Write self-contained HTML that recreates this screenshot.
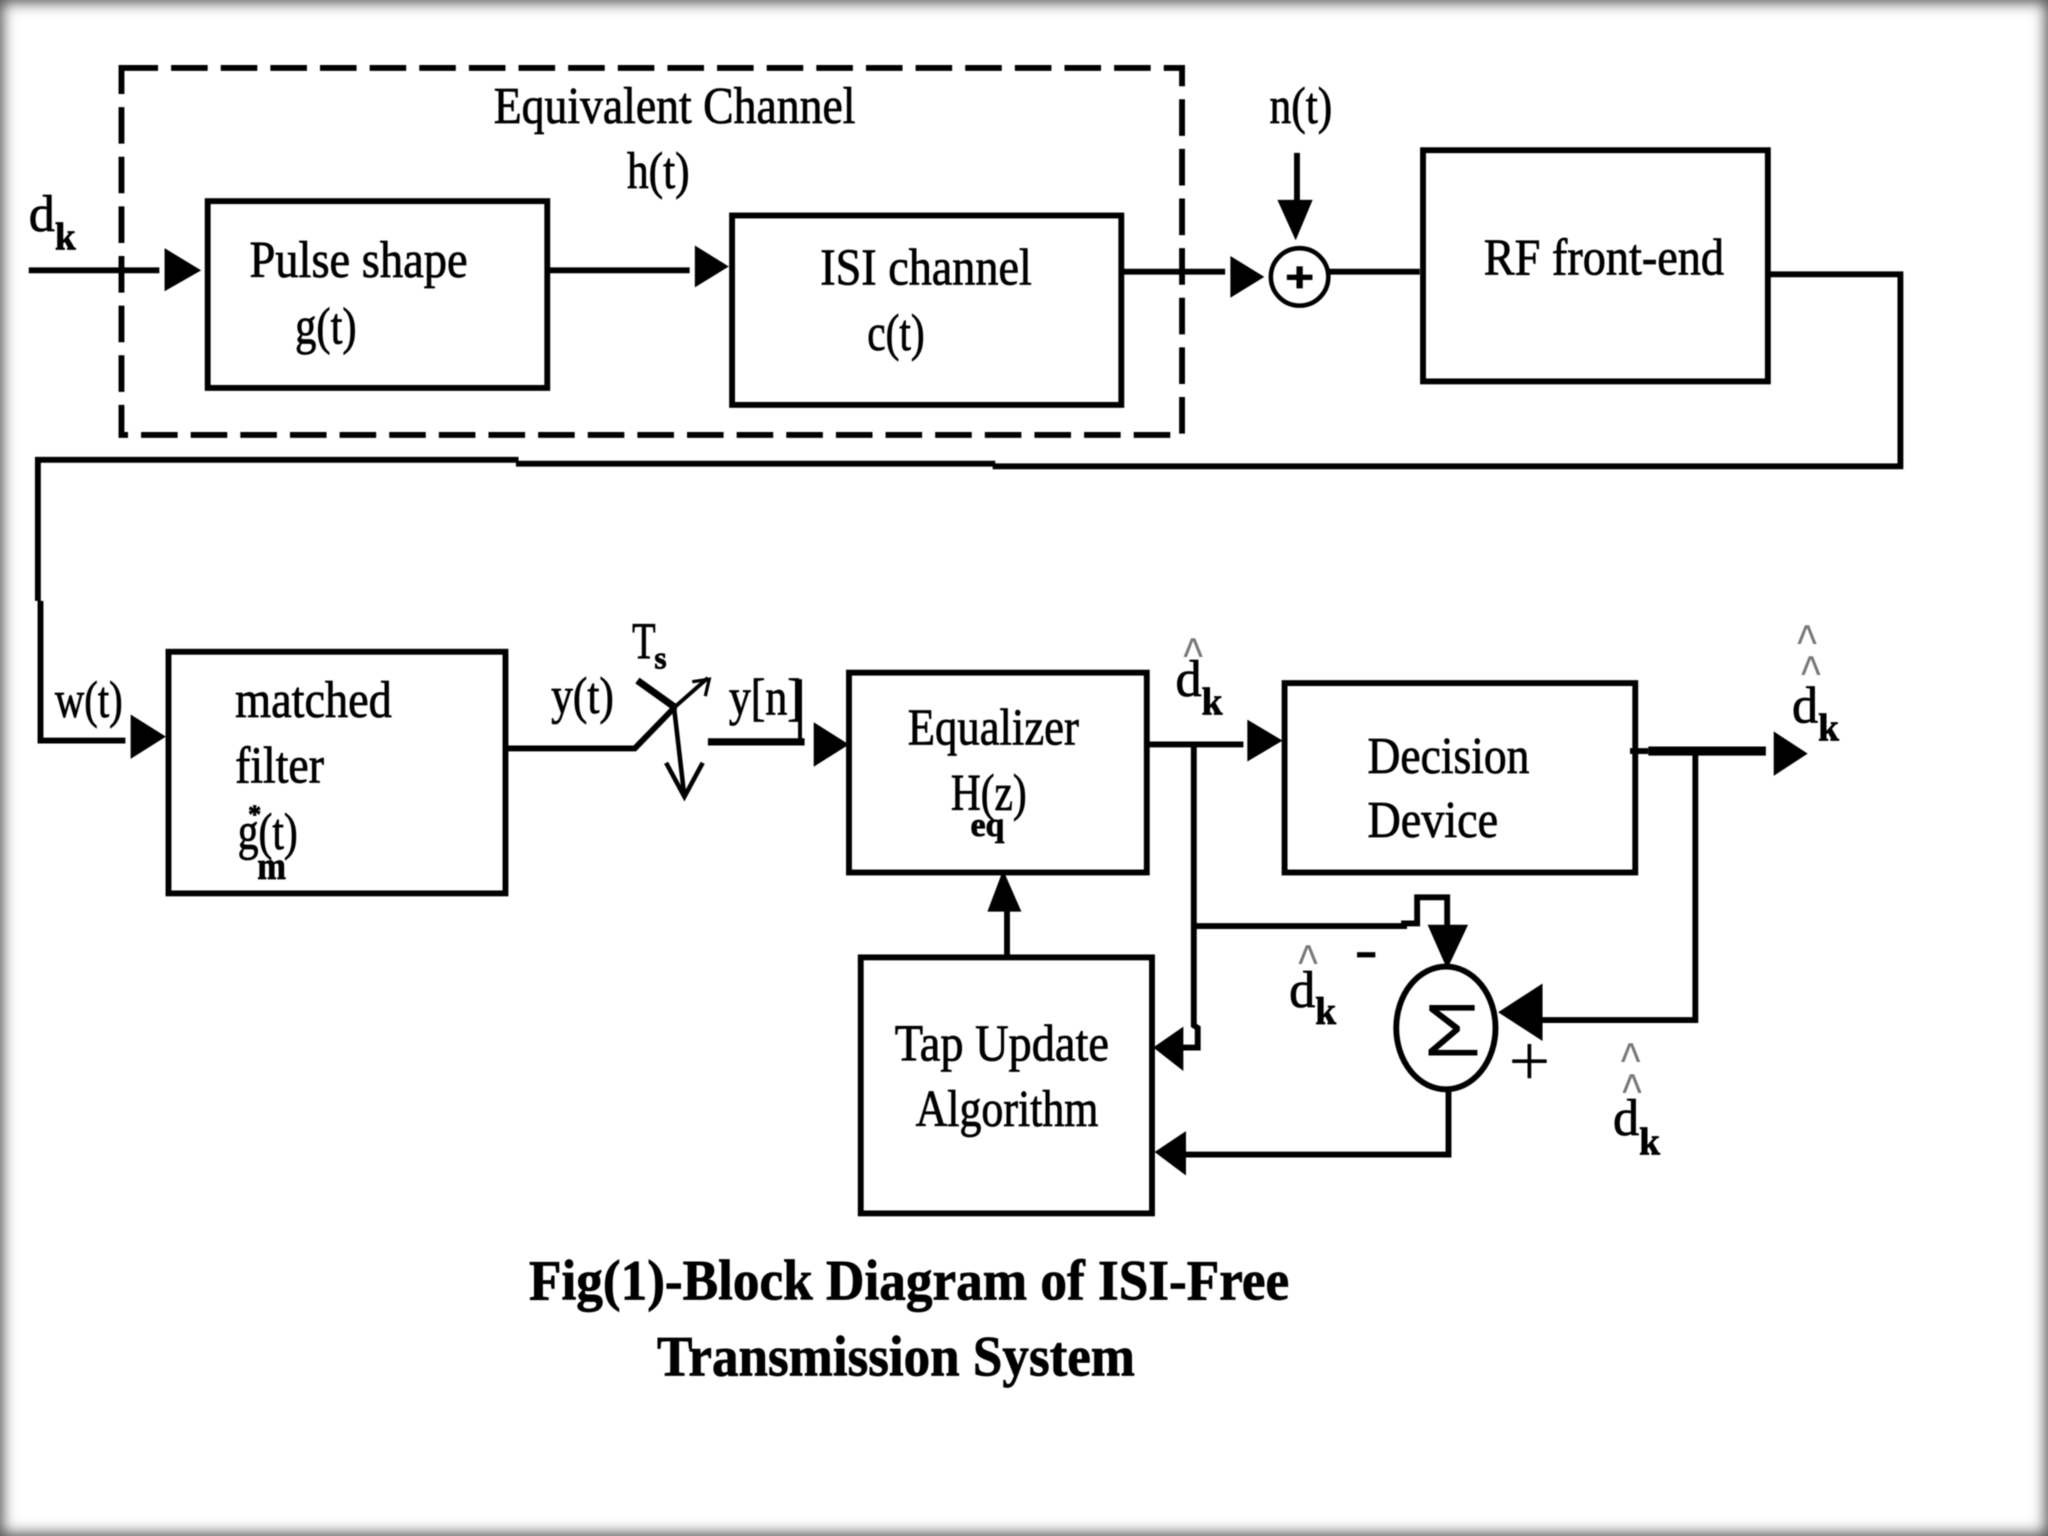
<!DOCTYPE html>
<html><head><meta charset="utf-8"><style>
html,body{margin:0;padding:0;background:#fff}
#w{position:relative;width:2048px;height:1536px;overflow:hidden;background:#fff}
svg{position:absolute;left:0;top:0;filter:blur(.5px)}
#e{position:absolute;inset:0;box-shadow:inset 0 0 14px 3px #555}
text{font-family:"Liberation Serif",serif;font-size:40px;fill:#000;stroke:#000;stroke-width:.6px}
.b{font-weight:bold;font-size:30px}
.h{font-family:"Liberation Sans",sans-serif;font-size:40px;fill:#777;stroke:none}
.t{font-weight:bold;font-size:44px}
path,line,rect,ellipse,circle{stroke:#000;fill:none;stroke-width:4.5}
polygon{fill:#000;stroke:none}
</style></head><body><div id="w">
<svg width="2048" height="1536" viewBox="0 0 1568 1176" xmlns="http://www.w3.org/2000/svg">
<rect x="93" y="52" width="812" height="281" stroke-dasharray="28 10"/>
<rect x="159" y="154" width="260" height="143"/>
<rect x="560.5" y="165" width="298" height="145"/>
<rect x="1089.5" y="115" width="264" height="177"/>
<rect x="129" y="499" width="258" height="185"/>
<rect x="650" y="515" width="228" height="153"/>
<rect x="983.5" y="523" width="268.5" height="145"/>
<rect x="659" y="733" width="223" height="196"/>

<path d="M22 207H122M421 207H528M860 208H938M1017 208H1087"/>
<path d="M993 117V155"/>
<path d="M1355 210H1455V357H760M762 355H395M397 352H29V460M31 460V567H96"/>
<path d="M385 573H486L517 541"/>
<path d="M517 541L542 519" style="stroke-width:3"/>
<path d="M530 522L543 520L540 533" style="stroke-width:2.5"/>
<path d="M488 521L516 541" style="stroke-width:5.5"/>
<path d="M516 541L524 610" style="stroke-width:3.5"/>
<path d="M510 584L524 610L538 584" style="stroke-width:3.5"/>
<path d="M542 568H616" style="stroke-width:5.5"/>
<path d="M879 570H952M914 570V785L917 787V802H904"/>
<path d="M914 709H1075V707H1085V687H1108V710"/>
<path d="M1109 835V884H906"/>
<path d="M1248 575H1262M1298 575V781H1180M771 733V695"/>
<path d="M1262 575H1352" style="stroke-width:7"/>
<circle cx="995" cy="212" r="22" style="stroke-width:3.5"/>
<ellipse cx="1107" cy="787" rx="38" ry="47"/>

<polygon points="126,190 154,207 126,223"/>
<polygon points="532,188 558,204 532,220"/>
<polygon points="942,196 968,212 942,228"/>
<polygon points="978,153 1005,153 992,184"/>
<polygon points="100,547 127,564 100,581"/>
<polygon points="623,553 650,570 623,587"/>
<polygon points="955,551 982,567 955,583"/>
<polygon points="883,802 906,786 906,820"/>
<polygon points="1093,708 1124,708 1108,742"/>
<polygon points="884,882 908,866 908,900"/>
<polygon points="1147,775 1181,753 1181,797"/>
<polygon points="1358,560 1384,577 1358,594"/>
<polygon points="756,698 782,698 768,666"/>
<rect x="1039" y="729" width="14" height="4" style="fill:#000;stroke:none"/>
<rect x="611" y="520" width="3" height="50" style="fill:#000;stroke:none"/>

<text x="378" y="94" textLength="277" lengthAdjust="spacingAndGlyphs">Equivalent Channel</text>
<text x="480" y="144" textLength="48" lengthAdjust="spacingAndGlyphs">h(t)</text>
<text x="22" y="177" textLength="20" lengthAdjust="spacingAndGlyphs">d</text>
<text class="b" x="42" y="191" textLength="16" lengthAdjust="spacingAndGlyphs">k</text>
<text x="191" y="212" textLength="167" lengthAdjust="spacingAndGlyphs">Pulse shape</text>
<text x="226" y="263" textLength="47" lengthAdjust="spacingAndGlyphs">g(t)</text>
<text x="628" y="218" textLength="162" lengthAdjust="spacingAndGlyphs">ISI channel</text>
<text x="664" y="268" textLength="44" lengthAdjust="spacingAndGlyphs">c(t)</text>
<text x="972" y="94" textLength="48" lengthAdjust="spacingAndGlyphs">n(t)</text>
<text x="1136" y="210" textLength="184" lengthAdjust="spacingAndGlyphs">RF front-end</text>
<text x="42" y="549" textLength="52" lengthAdjust="spacingAndGlyphs">w(t)</text>
<text x="180" y="549" textLength="120" lengthAdjust="spacingAndGlyphs">matched</text>
<text x="180" y="599" textLength="68" lengthAdjust="spacingAndGlyphs">filter</text>
<text x="182" y="650" textLength="46" lengthAdjust="spacingAndGlyphs">g(t)</text>
<text class="b" x="190" y="630" style="font-size:20px">*</text>
<text class="b" x="197" y="673" textLength="22" lengthAdjust="spacingAndGlyphs">m</text>
<text x="422" y="546" textLength="48" lengthAdjust="spacingAndGlyphs">y(t)</text>
<text x="484" y="504" textLength="18" lengthAdjust="spacingAndGlyphs">T</text>
<text class="b" x="501" y="512" style="font-size:24px">s</text>
<text x="558" y="547" textLength="56" lengthAdjust="spacingAndGlyphs">y[n]</text>
<text x="695" y="570" textLength="131" lengthAdjust="spacingAndGlyphs">Equalizer</text>
<text x="728" y="620" textLength="58" lengthAdjust="spacingAndGlyphs">H(z)</text>
<text class="b" x="743" y="640" textLength="26" lengthAdjust="spacingAndGlyphs" style="font-size:26px">eq</text>
<text class="h" x="906" y="516" textLength="15" lengthAdjust="spacingAndGlyphs">^</text>
<text x="900" y="533" textLength="20" lengthAdjust="spacingAndGlyphs">d</text>
<text class="b" x="920" y="547" textLength="16" lengthAdjust="spacingAndGlyphs">k</text>
<text x="1047" y="592" textLength="124" lengthAdjust="spacingAndGlyphs">Decision</text>
<text x="1047" y="641" textLength="100" lengthAdjust="spacingAndGlyphs">Device</text>
<text class="h" x="1376" y="506" textLength="15" lengthAdjust="spacingAndGlyphs">^</text>
<text class="h" x="1379" y="530" textLength="15" lengthAdjust="spacingAndGlyphs">^</text>
<text x="1372" y="553" textLength="20" lengthAdjust="spacingAndGlyphs">d</text>
<text class="b" x="1392" y="567" textLength="16" lengthAdjust="spacingAndGlyphs">k</text>
<text x="685" y="812" textLength="164" lengthAdjust="spacingAndGlyphs">Tap Update</text>
<text x="701" y="862" textLength="140" lengthAdjust="spacingAndGlyphs">Algorithm</text>
<text class="h" x="994" y="751" textLength="15" lengthAdjust="spacingAndGlyphs">^</text>
<text x="987" y="771" textLength="20" lengthAdjust="spacingAndGlyphs">d</text>
<text class="b" x="1007" y="784" textLength="16" lengthAdjust="spacingAndGlyphs">k</text>
<text class="h" x="1241" y="826" textLength="15" lengthAdjust="spacingAndGlyphs">^</text>
<text class="h" x="1242" y="850" textLength="15" lengthAdjust="spacingAndGlyphs">^</text>
<text x="1235" y="869" textLength="20" lengthAdjust="spacingAndGlyphs">d</text>
<text class="b" x="1255" y="884" textLength="16" lengthAdjust="spacingAndGlyphs">k</text>
<text x="1090" y="808" textLength="44" lengthAdjust="spacingAndGlyphs" style="font-family:'Liberation Sans',sans-serif;font-size:56px;stroke:none">Σ</text>
<text x="1155" y="831" textLength="32" lengthAdjust="spacingAndGlyphs" style="font-size:56px;stroke:none">+</text>
<text x="984" y="223" textLength="22" lengthAdjust="spacingAndGlyphs" style="font-family:'Liberation Sans',sans-serif;font-weight:bold;font-size:32px">+</text>
<text class="t" x="405" y="995" textLength="582" lengthAdjust="spacingAndGlyphs">Fig(1)-Block Diagram of ISI-Free</text>
<text class="t" x="503" y="1053" textLength="366" lengthAdjust="spacingAndGlyphs">Transmission System</text>
</svg>
<div id="e"></div>
</div></body></html>
